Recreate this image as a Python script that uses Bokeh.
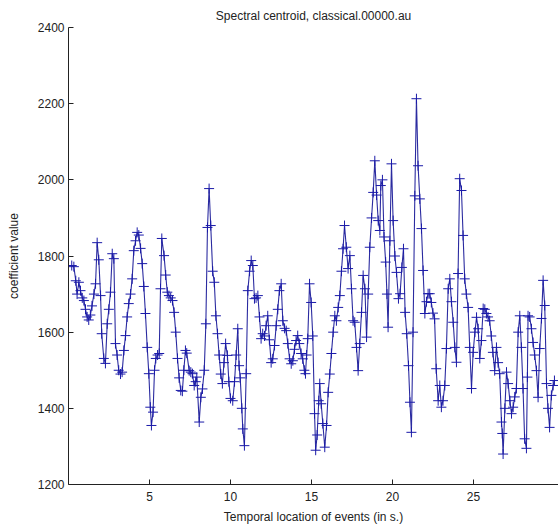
from bokeh.plotting import figure
from bokeh.models import FixedTicker, ColumnDataSource
from bokeh.embed import file_html
from bokeh.resources import INLINE

title_text = "Spectral centroid, classical.00000.au"
x_label = "Temporal location of events (in s.)"
y_label = "coefficient value"

x_ticks = [5, 10, 15, 20, 25]
y_ticks = [1200, 1400, 1600, 1800, 2000, 2200, 2400]

times = [
    0.20, 0.33, 0.45, 0.53, 0.64, 0.74, 0.85, 0.95, 1.05, 1.15,
    1.25, 1.35, 1.45, 1.57, 1.67, 1.77, 1.87, 1.98, 2.05, 2.18,
    2.28, 2.39, 2.49, 2.59, 2.70, 2.80, 2.90, 3.00, 3.10, 3.21,
    3.31, 3.42, 3.52, 3.62, 3.72, 3.83, 3.93, 4.03, 4.14, 4.24,
    4.34, 4.45, 4.55, 4.65, 4.75, 4.86, 4.96, 5.05, 5.12, 5.22,
    5.31, 5.39, 5.50, 5.60, 5.68, 5.76, 5.90, 6.00, 6.10, 6.20,
    6.31, 6.42, 6.52, 6.62, 6.73, 6.83, 6.93, 7.03, 7.12, 7.22,
    7.30, 7.45, 7.55, 7.65, 7.76, 7.85, 7.92, 8.07, 8.17, 8.27,
    8.38, 8.48, 8.58, 8.68, 8.78, 8.90, 9.00, 9.10, 9.20, 9.30,
    9.40, 9.50, 9.60, 9.70, 9.81, 9.90, 10.00, 10.14, 10.25, 10.35,
    10.45, 10.53, 10.60, 10.70, 10.76, 10.86, 10.97, 11.07, 11.18, 11.28,
    11.38, 11.48, 11.58, 11.69, 11.79, 11.89, 11.99, 12.10, 12.20, 12.30,
    12.40, 12.51, 12.61, 12.72, 12.82, 12.92, 13.02, 13.13, 13.23, 13.34,
    13.44, 13.54, 13.65, 13.75, 13.85, 13.95, 14.05, 14.15, 14.25, 14.36,
    14.46, 14.56, 14.63, 14.70, 14.77, 14.88, 14.98, 15.08, 15.19, 15.26,
    15.35, 15.45, 15.51, 15.60, 15.70, 15.82, 15.93, 16.03, 16.13, 16.23,
    16.34, 16.44, 16.54, 16.65, 16.75, 16.85, 16.95, 17.04, 17.15, 17.26,
    17.37, 17.47, 17.57, 17.67, 17.78, 17.88, 17.98, 18.09, 18.19, 18.30,
    18.40, 18.50, 18.60, 18.71, 18.81, 18.91, 19.02, 19.12, 19.22, 19.28,
    19.38, 19.48, 19.58, 19.66, 19.73, 19.84, 19.94, 20.04, 20.15, 20.25,
    20.37, 20.47, 20.58, 20.68, 20.78, 20.88, 20.99, 21.08, 21.17, 21.27,
    21.38, 21.48, 21.58, 21.69, 21.79, 21.89, 22.00, 22.10, 22.20, 22.30,
    22.40, 22.50, 22.60, 22.70, 22.82, 22.92, 23.02, 23.12, 23.23, 23.33,
    23.44, 23.54, 23.64, 23.75, 23.85, 23.95, 24.05, 24.15, 24.26, 24.36,
    24.46, 24.56, 24.67, 24.77, 24.88, 24.98, 25.09, 25.19, 25.29, 25.39,
    25.49, 25.60, 25.70, 25.80, 25.90, 26.00, 26.10, 26.20, 26.31, 26.42,
    26.52, 26.62, 26.73, 26.78, 26.83, 26.94, 27.04, 27.14, 27.25, 27.35,
    27.45, 27.55, 27.65, 27.76, 27.86, 27.96, 28.06, 28.16, 28.27, 28.33,
    28.37, 28.47, 28.58, 28.68, 28.78, 28.89, 28.99, 29.09, 29.20, 29.30,
    29.40, 29.51, 29.60, 29.70, 29.81, 29.92, 30.00,
]

values = [
    1775, 1772, 1735, 1700, 1731, 1709, 1690, 1683, 1660, 1640,
    1632, 1645, 1669, 1700, 1727, 1835, 1790, 1696, 1596, 1531,
    1518, 1622, 1660, 1705, 1806, 1793, 1570, 1540, 1500, 1490,
    1495, 1552, 1591, 1640, 1675, 1700, 1740, 1814, 1840, 1862,
    1855, 1820, 1780, 1720, 1649, 1560, 1491, 1403, 1355, 1390,
    1500, 1531, 1540, 1544, 1714, 1846, 1801, 1750, 1705, 1696,
    1690, 1683, 1652, 1600, 1531, 1480, 1447, 1445, 1500, 1552,
    1545, 1499, 1495, 1491, 1460, 1470, 1482, 1364, 1429, 1451,
    1500, 1622, 1875, 1977, 1880, 1760, 1731, 1643, 1596, 1540,
    1490, 1465, 1520, 1570, 1539, 1470, 1426, 1420, 1470, 1540,
    1609, 1512, 1480, 1400, 1346, 1302, 1491, 1709, 1760, 1788,
    1775, 1688, 1690, 1696, 1640, 1583, 1596, 1590, 1617, 1643,
    1580, 1520, 1530, 1565, 1617, 1660, 1709, 1727, 1630, 1610,
    1604, 1570, 1530, 1517, 1525, 1555, 1578, 1591, 1570, 1544,
    1530, 1500, 1491, 1540, 1583, 1727, 1678, 1590, 1386, 1290,
    1330, 1420, 1465, 1412, 1360, 1298, 1355, 1442, 1490, 1544,
    1600, 1643, 1630, 1665, 1696, 1760, 1819, 1880, 1823, 1767,
    1801, 1714, 1630, 1626, 1560, 1499, 1570, 1652, 1749, 1714,
    1587, 1700, 1823, 1900, 1967, 2050, 1960, 1893, 1867, 1985,
    2000, 1850, 1784, 1700, 1613, 1840, 2042, 1893, 1800, 1757,
    1688, 1701, 1770, 1819, 1652, 1596, 1512, 1416, 1337, 1600,
    1958, 2213, 2037, 1950, 1872, 1762, 1649, 1680, 1701, 1701,
    1678, 1650, 1635, 1504, 1420, 1460, 1403, 1420, 1460, 1557,
    1714, 1740, 1680, 1626, 1560, 1521, 1754, 2003, 1972, 1854,
    1740, 1700, 1665, 1560, 1452, 1547, 1600, 1639, 1609, 1531,
    1578, 1662, 1660, 1649, 1640, 1630, 1590, 1547, 1499, 1560,
    1520, 1491, 1364, 1334, 1280, 1400, 1495, 1465, 1420, 1386,
    1403, 1430, 1452, 1600, 1643, 1560, 1452, 1320, 1295, 1482,
    1643, 1640, 1609, 1573, 1540, 1499, 1429, 1557, 1636, 1736,
    1670, 1465, 1400, 1350, 1434, 1460, 1473,
]

src = ColumnDataSource(data=dict(t=times, v=values))

p = figure(width=558, height=530, x_range=(0.0, 30.25), y_range=(1200, 2400),
           output_backend="svg", toolbar_location=None,
           min_border_left=68, min_border_right=0, min_border_top=27, min_border_bottom=46)

p.title.text = title_text
p.title.align = "center"
p.title.text_font = "Liberation Sans"
p.title.text_font_size = "12px"
p.title.text_font_style = "normal"
p.title.text_color = "#222222"
p.title.offset = 0

p.line("t", "v", source=src, line_color="#2b2ba0", line_width=1.1)
p.scatter("t", "v", source=src, marker="cross", size=10, line_color="#1a1aa8", line_width=1)

p.xgrid.visible = False
p.ygrid.visible = False
p.outline_line_color = None
p.background_fill_color = "white"
p.border_fill_color = "white"

p.xaxis.ticker = FixedTicker(ticks=x_ticks)
p.yaxis.ticker = FixedTicker(ticks=y_ticks)
p.xaxis.axis_label = x_label
p.yaxis.axis_label = y_label

for ax in (p.xaxis, p.yaxis):
    ax.axis_line_color = "#222222"
    ax.major_tick_line_color = "#222222"
    ax.major_tick_in = 5
    ax.major_tick_out = 0
    ax.minor_tick_line_color = None
    ax.major_label_text_font = "Liberation Sans"
    ax.major_label_text_font_size = "12px"
    ax.major_label_text_color = "#222222"
    ax.axis_label_text_font = "Liberation Sans"
    ax.axis_label_text_font_size = "12px"
    ax.axis_label_text_font_style = "normal"
    ax.axis_label_text_color = "#222222"

p.xaxis.major_label_standoff = 7
p.xaxis.axis_label_standoff = 6
p.yaxis.major_label_standoff = 4
p.yaxis.axis_label_standoff = 14

open("out.html", "w").write(file_html(p, INLINE))
